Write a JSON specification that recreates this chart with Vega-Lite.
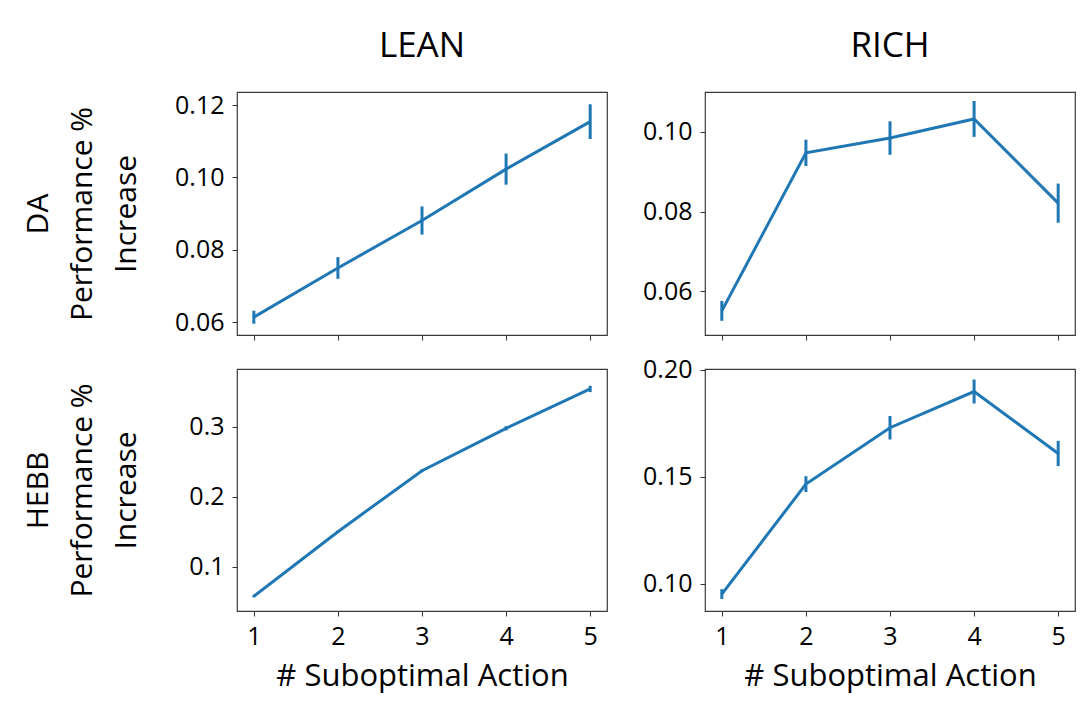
{
  "$schema": "https://vega.github.io/schema/vega-lite/v6.json",
  "background": "white",
  "padding": {"left": 22, "top": 28, "right": 0, "bottom": 6},
  "config": {
    "font": "Open Sans",
    "view": {"stroke": "#3a3a3a", "strokeWidth": 1.2},
    "axis": {
      "domain": false,
      "grid": false,
      "tickColor": "#333",
      "tickSize": 5,
      "tickWidth": 1,
      "labelFont": "Open Sans",
      "labelFontSize": 25,
      "labelColor": "#000",
      "labelPadding": 8,
      "titleFont": "Open Sans",
      "titleFontWeight": "normal",
      "titleColor": "#000"
    },
    "axisY": {"minExtent": 63, "maxExtent": 63, "titleFontSize": 30, "titleLineHeight": 44, "titlePadding": 33},
    "axisX": {"titleFontSize": 31, "titlePadding": 12},
    "title": {"font": "Open Sans", "fontSize": 35, "fontWeight": "normal", "color": "#000", "offset": 28}
  },
  "data": {
    "values": [
      {"model": "DA", "setting": "LEAN", "k": 1, "mean": 0.0614, "err": 0.0018},
      {"model": "DA", "setting": "LEAN", "k": 2, "mean": 0.0750, "err": 0.0030},
      {"model": "DA", "setting": "LEAN", "k": 3, "mean": 0.0881, "err": 0.0039},
      {"model": "DA", "setting": "LEAN", "k": 4, "mean": 0.1023, "err": 0.0043},
      {"model": "DA", "setting": "LEAN", "k": 5, "mean": 0.1154, "err": 0.0048},
      {"model": "DA", "setting": "RICH", "k": 1, "mean": 0.0551, "err": 0.0025},
      {"model": "DA", "setting": "RICH", "k": 2, "mean": 0.0947, "err": 0.0033},
      {"model": "DA", "setting": "RICH", "k": 3, "mean": 0.0984, "err": 0.0042},
      {"model": "DA", "setting": "RICH", "k": 4, "mean": 0.1032, "err": 0.0045},
      {"model": "DA", "setting": "RICH", "k": 5, "mean": 0.0821, "err": 0.0049},
      {"model": "HEBB", "setting": "LEAN", "k": 1, "mean": 0.0577, "err": 0.0015},
      {"model": "HEBB", "setting": "LEAN", "k": 2, "mean": 0.1500, "err": 0.0015},
      {"model": "HEBB", "setting": "LEAN", "k": 3, "mean": 0.2371, "err": 0.0020},
      {"model": "HEBB", "setting": "LEAN", "k": 4, "mean": 0.2977, "err": 0.0030},
      {"model": "HEBB", "setting": "LEAN", "k": 5, "mean": 0.3539, "err": 0.0045},
      {"model": "HEBB", "setting": "RICH", "k": 1, "mean": 0.0953, "err": 0.0023},
      {"model": "HEBB", "setting": "RICH", "k": 2, "mean": 0.1466, "err": 0.0037},
      {"model": "HEBB", "setting": "RICH", "k": 3, "mean": 0.1729, "err": 0.0055},
      {"model": "HEBB", "setting": "RICH", "k": 4, "mean": 0.1898, "err": 0.0056},
      {"model": "HEBB", "setting": "RICH", "k": 5, "mean": 0.1609, "err": 0.0059}
    ]
  },
  "columns": 2,
  "bounds": "flush",
  "spacing": {"row": 34, "column": 98},
  "concat": [
    {
      "width": 370,
      "height": 243,
      "title": "LEAN",
      "transform": [{"filter": "datum.model === 'DA' && datum.setting === 'LEAN'"}],
      "encoding": {
        "x": {"field": "k", "type": "quantitative", "scale": {"domain": [0.8, 5.2], "nice": false, "zero": false},
              "axis": {"values": [1, 2, 3, 4, 5], "labels": false, "title": null}},
        "y": {"field": "mean", "type": "quantitative", "scale": {"domain": [0.05649, 0.12359], "nice": false, "zero": false},
              "axis": {"values": [0.06, 0.08, 0.10, 0.12], "format": ".2f", "title": ["DA", "Performance %", "Increase"]}}
      },
      "layer": [
        {"mark": {"type": "line", "color": "#1f77b4", "strokeWidth": 3}},
        {"mark": {"type": "errorbar", "color": "#1f77b4", "thickness": 3}, "encoding": {"yError": {"field": "err"}}}
      ]
    },
    {
      "width": 370,
      "height": 243,
      "title": "RICH",
      "transform": [{"filter": "datum.model === 'DA' && datum.setting === 'RICH'"}],
      "encoding": {
        "x": {"field": "k", "type": "quantitative", "scale": {"domain": [0.8, 5.2], "nice": false, "zero": false},
              "axis": {"values": [1, 2, 3, 4, 5], "labels": false, "title": null}},
        "y": {"field": "mean", "type": "quantitative", "scale": {"domain": [0.04905, 0.10995], "nice": false, "zero": false},
              "axis": {"values": [0.06, 0.08, 0.10], "format": ".2f", "title": null}}
      },
      "layer": [
        {"mark": {"type": "line", "color": "#1f77b4", "strokeWidth": 3}},
        {"mark": {"type": "errorbar", "color": "#1f77b4", "thickness": 3}, "encoding": {"yError": {"field": "err"}}}
      ]
    },
    {
      "width": 370,
      "height": 242,
      "transform": [{"filter": "datum.model === 'HEBB' && datum.setting === 'LEAN'"}],
      "encoding": {
        "x": {"field": "k", "type": "quantitative", "scale": {"domain": [0.8, 5.2], "nice": false, "zero": false},
              "axis": {"values": [1, 2, 3, 4, 5], "format": "d", "title": "# Suboptimal Action"}},
        "y": {"field": "mean", "type": "quantitative", "scale": {"domain": [0.0367, 0.3824], "nice": false, "zero": false},
              "axis": {"values": [0.1, 0.2, 0.3], "format": ".1f", "title": ["HEBB", "Performance %", "Increase"]}}
      },
      "layer": [
        {"mark": {"type": "line", "color": "#1f77b4", "strokeWidth": 3}},
        {"mark": {"type": "errorbar", "color": "#1f77b4", "thickness": 3}, "encoding": {"yError": {"field": "err"}}}
      ]
    },
    {
      "width": 370,
      "height": 242,
      "transform": [{"filter": "datum.model === 'HEBB' && datum.setting === 'RICH'"}],
      "encoding": {
        "x": {"field": "k", "type": "quantitative", "scale": {"domain": [0.8, 5.2], "nice": false, "zero": false},
              "axis": {"values": [1, 2, 3, 4, 5], "format": "d", "title": "# Suboptimal Action"}},
        "y": {"field": "mean", "type": "quantitative", "scale": {"domain": [0.0874, 0.2003], "nice": false, "zero": false},
              "axis": {"values": [0.10, 0.15, 0.20], "format": ".2f", "title": null}}
      },
      "layer": [
        {"mark": {"type": "line", "color": "#1f77b4", "strokeWidth": 3}},
        {"mark": {"type": "errorbar", "color": "#1f77b4", "thickness": 3}, "encoding": {"yError": {"field": "err"}}}
      ]
    }
  ]
}
